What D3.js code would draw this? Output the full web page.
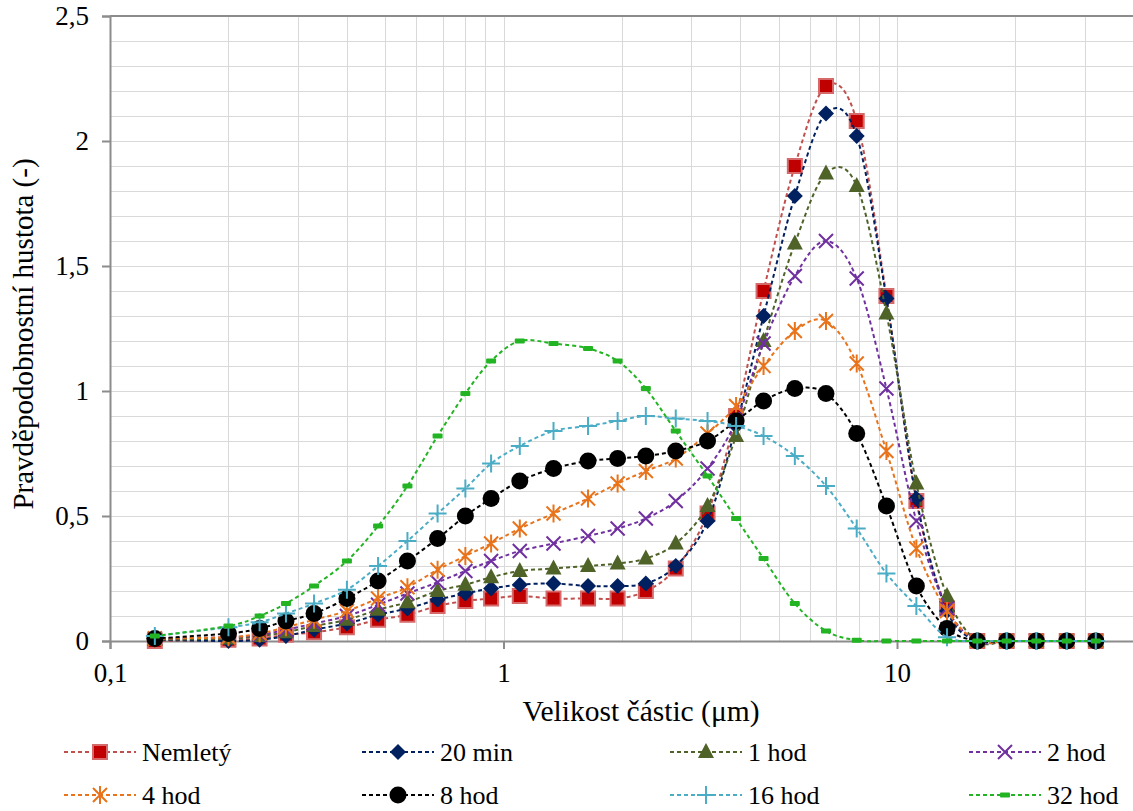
<!DOCTYPE html>
<html>
<head>
<meta charset="utf-8">
<script src="https://cdn.jsdelivr.net/npm/d3@7"></script>
<style>
  body { margin: 0; background: #ffffff; }
  svg { display: block; }
  text { font-family: "Liberation Serif", "Times New Roman", "DejaVu Serif", serif; fill: #000; }
</style>
</head>
<body>
<svg id="chart" width="1133" height="811"></svg>
<script>
// Particle size classes (µm)
const sizes = [0.13, 0.2, 0.24, 0.28, 0.33, 0.4, 0.48, 0.57, 0.68, 0.8, 0.93, 1.1, 1.34, 1.64, 1.95,
               2.3, 2.74, 3.3, 3.9, 4.58, 5.5, 6.6, 7.9, 9.4, 11.2, 13.4, 16, 19, 22.6, 27, 32];

// Probability density for each milling time
const nemlety = [0, 0.005, 0.01, 0.025, 0.035, 0.055, 0.085, 0.105, 0.14, 0.16, 0.17, 0.18, 0.17, 0.17, 0.17,
                 0.2, 0.29, 0.51, 0.9, 1.4, 1.9, 2.22, 2.08, 1.38, 0.56, 0.13, 0, 0, 0, 0, 0];
const min20 = [0.005, 0, 0.005, 0.02, 0.045, 0.07, 0.105, 0.13, 0.165, 0.19, 0.21, 0.225, 0.23, 0.22, 0.22,
               0.23, 0.3, 0.48, 0.86, 1.3, 1.78, 2.11, 2.02, 1.37, 0.57, 0.12, 0, 0, 0, 0, 0];
const hod1 = [0.005, 0.01, 0.02, 0.035, 0.06, 0.085, 0.125, 0.155, 0.2, 0.225, 0.255, 0.28, 0.29, 0.3, 0.31,
              0.33, 0.39, 0.54, 0.82, 1.2, 1.59, 1.87, 1.82, 1.31, 0.63, 0.18, 0, 0, 0, 0, 0];
const hod2 = [0.01, 0.015, 0.025, 0.045, 0.07, 0.1, 0.145, 0.19, 0.235, 0.28, 0.32, 0.36, 0.39, 0.42, 0.45,
              0.49, 0.56, 0.69, 0.88, 1.19, 1.46, 1.6, 1.45, 1.01, 0.48, 0.13, 0, 0, 0, 0, 0];
const hod4 = [0.01, 0.015, 0.03, 0.055, 0.085, 0.12, 0.17, 0.215, 0.285, 0.34, 0.39, 0.45, 0.51, 0.57, 0.63,
              0.68, 0.73, 0.83, 0.94, 1.1, 1.24, 1.28, 1.11, 0.76, 0.37, 0.12, 0, 0, 0, 0, 0];
const hod8 = [0.01, 0.03, 0.05, 0.08, 0.11, 0.17, 0.24, 0.32, 0.41, 0.5, 0.57, 0.64, 0.69, 0.72, 0.73,
              0.74, 0.76, 0.8, 0.88, 0.96, 1.01, 0.99, 0.83, 0.54, 0.22, 0.05, 0, 0, 0, 0, 0];
const hod16 = [0.02, 0.055, 0.075, 0.11, 0.15, 0.205, 0.3, 0.4, 0.51, 0.61, 0.71, 0.78, 0.84, 0.86, 0.88,
               0.9, 0.89, 0.88, 0.86, 0.82, 0.74, 0.62, 0.45, 0.27, 0.14, 0.015, 0, 0, 0, 0, 0];
const hod32 = [0.02, 0.06, 0.1, 0.15, 0.22, 0.32, 0.46, 0.62, 0.82, 0.99, 1.12, 1.2, 1.19, 1.17, 1.12,
               1.01, 0.84, 0.66, 0.49, 0.33, 0.15, 0.04, 0.003, 0, 0, 0, 0, 0, 0, 0, 0];

const seriesNames = ["Nemletý", "20 min", "1 hod", "2 hod", "4 hod", "8 hod", "16 hod", "32 hod"];
const seriesValues = [nemlety, min20, hod1, hod2, hod4, hod8, hod16, hod32];

// Axis ticks
const yTicks = [0, 0.5, 1, 1.5, 2, 2.5];
const yTickLabels = ["0", "0,5", "1", "1,5", "2", "2,5"];
const xTicks = [0.1, 1, 10];
const xTickLabels = ["0,1", "1", "10"];

const xTitle = "Velikost částic (μm)";
const yTitle = "Pravděpodobnostní hustota (-)";

const serif = "'Liberation Serif', 'Times New Roman', 'DejaVu Serif', serif";

// Visual style for each series
const styles = [
  { line: "#c0504d", marker: "square",   fill: "#c00000", stroke: "#d66a6a" },
  { line: "#002060", marker: "diamond",  fill: "#002060", stroke: "#002060" },
  { line: "#4f6228", marker: "triangle", fill: "#4f6228", stroke: "#4f6228" },
  { line: "#7030a0", marker: "x",        fill: "none",    stroke: "#7030a0" },
  { line: "#e8731a", marker: "star",     fill: "none",    stroke: "#e8731a" },
  { line: "#000000", marker: "circle",   fill: "#000000", stroke: "#000000" },
  { line: "#4bacc6", marker: "plus",     fill: "none",    stroke: "#4bacc6" },
  { line: "#22b422", marker: "dash",     fill: "#22b422", stroke: "#22b422" }
];

const svg = d3.select("#chart");
const plot = { left: 110, top: 16, bottom: 641 };

const x = d3.scaleLog().domain([0.1, 40]).range([plot.left, plot.left + Math.log10(400) * 393.5]);
const y = d3.scaleLinear().domain([0, 2.5]).range([plot.bottom, plot.top]);
const xRight = x.range()[1];

// Grid: minor horizontal every 0.1, vertical at each 1..9 of a decade
const grid = svg.append("g").attr("stroke", "#d9d9d9").attr("stroke-width", 1);
d3.range(1, 25).map(i => i / 10).forEach(v => {
  grid.append("line").attr("x1", plot.left).attr("x2", xRight)
    .attr("y1", Math.round(y(v)) + 0.5).attr("y2", Math.round(y(v)) + 0.5);
});
const vgrid = [];
[0.1, 1, 10].forEach(d => { for (let k = 1; k <= 9; k++) vgrid.push(d * k); });
vgrid.push(40);
vgrid.filter(v => v > 0.1 && v <= 40).forEach(v => {
  grid.append("line").attr("x1", Math.round(x(v)) + 0.5).attr("x2", Math.round(x(v)) + 0.5)
    .attr("y1", plot.top).attr("y2", plot.bottom);
});

// Top border of the plot area
svg.append("line").attr("x1", plot.left).attr("x2", xRight)
  .attr("y1", plot.top).attr("y2", plot.top)
  .attr("stroke", "#8c8c8c").attr("stroke-width", 2);

// Y axis
const yAxis = svg.append("g").attr("transform", `translate(${plot.left},0)`)
  .call(d3.axisLeft(y).tickValues(yTicks).tickFormat((d, i) => yTickLabels[i]).tickSize(8).tickPadding(13));
yAxis.attr("font-family", serif);
yAxis.select(".domain").attr("stroke", "#8c8c8c").attr("stroke-width", 2);
yAxis.selectAll(".tick line").attr("stroke", "#8c8c8c").attr("stroke-width", 2);
yAxis.selectAll(".tick text").attr("font-size", 27).attr("fill", "#000");

// X axis
const xAxis = svg.append("g").attr("transform", `translate(0,${plot.bottom})`)
  .call(d3.axisBottom(x).tickValues(xTicks).tickFormat((d, i) => xTickLabels[i]).tickSize(8).tickPadding(14));
xAxis.attr("font-family", serif);
xAxis.select(".domain").attr("stroke", "#8c8c8c").attr("stroke-width", 2);
xAxis.selectAll(".tick line").attr("stroke", "#8c8c8c").attr("stroke-width", 2);
xAxis.selectAll(".tick text").attr("font-size", 27).attr("fill", "#000");

// Axis titles
svg.append("text").attr("x", 641).attr("y", 721).attr("text-anchor", "middle")
  .attr("font-size", 29.5).text(xTitle);
svg.append("text").attr("transform", "translate(33,334) rotate(-90)").attr("text-anchor", "middle")
  .attr("font-size", 29).text(yTitle);

// Marker drawing
function drawMarker(g, st) {
  const sw = 2;
  switch (st.marker) {
    case "square":
      g.append("rect").attr("x", -7).attr("y", -7).attr("width", 14).attr("height", 14)
        .attr("fill", st.fill).attr("stroke", st.stroke).attr("stroke-width", sw);
      break;
    case "diamond":
      g.append("path").attr("d", "M0,-8L8,0L0,8L-8,0Z").attr("fill", st.fill);
      break;
    case "triangle":
      g.append("path").attr("d", "M0,-9L8,6L-8,6Z").attr("fill", st.fill);
      break;
    case "x":
      g.append("path").attr("d", "M-7,-7L7,7M-7,7L7,-7").attr("stroke", st.stroke).attr("stroke-width", sw).attr("fill", "none");
      break;
    case "star":
      g.append("path").attr("d", "M-7,-7L7,7M-7,7L7,-7M0,-9L0,9").attr("stroke", st.stroke).attr("stroke-width", sw).attr("fill", "none");
      break;
    case "circle":
      g.append("circle").attr("r", 8.5).attr("fill", st.fill);
      break;
    case "plus":
      g.append("path").attr("d", "M-9,0L9,0M0,-9L0,9").attr("stroke", st.stroke).attr("stroke-width", sw).attr("fill", "none");
      break;
    case "dash":
      g.append("rect").attr("x", -5).attr("y", -2.5).attr("width", 10).attr("height", 5).attr("rx", 1)
        .attr("fill", st.fill);
      break;
  }
}

const line = d3.line().x(d => x(d[0])).y(d => y(d[1])).curve(d3.curveCardinal.tension(0));

// Series lines and markers
seriesValues.forEach((vals, si) => {
  const st = styles[si];
  const pts = sizes.map((s, i) => [s, vals[i]]);
  const g = svg.append("g");
  g.append("path").datum(pts).attr("d", line).attr("fill", "none")
    .attr("stroke", st.line).attr("stroke-width", 2).attr("stroke-dasharray", "4,3");
  pts.forEach(p => {
    drawMarker(g.append("g").attr("transform", `translate(${x(p[0])},${y(p[1])})`), st);
  });
});

// Legend: 4 columns, 2 rows
const legendCols = [100, 398, 706, 1005];
const legendRows = [752, 795];
seriesNames.forEach((name, i) => {
  const st = styles[i];
  const cx = legendCols[i % 4], cy = legendRows[Math.floor(i / 4)];
  const g = svg.append("g");
  g.append("line").attr("x1", cx - 36).attr("x2", cx + 36).attr("y1", cy).attr("y2", cy)
    .attr("stroke", st.line).attr("stroke-width", 2).attr("stroke-dasharray", "4,3");
  drawMarker(g.append("g").attr("transform", `translate(${cx},${cy})`), st);
  g.append("text").attr("x", cx + 42).attr("y", cy + 9).attr("font-size", 26).text(name);
});
</script>
</body>
</html>
